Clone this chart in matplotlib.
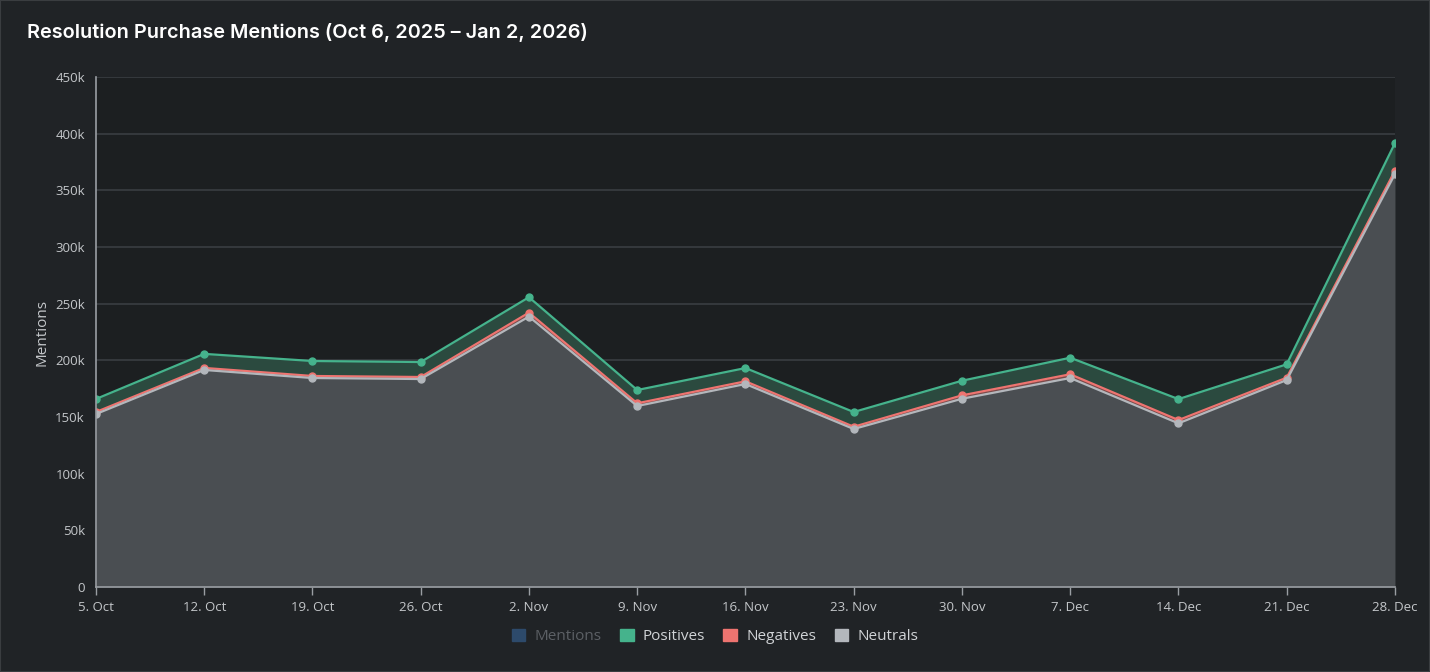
import matplotlib.pyplot as plt
import matplotlib.patches as mpatches
import numpy as np
from matplotlib.ticker import FuncFormatter

# weekly values, in thousands of mentions
weeks = ["5. Oct", "12. Oct", "19. Oct", "26. Oct", "2. Nov", "9. Nov", "16. Nov",
         "23. Nov", "30. Nov", "7. Dec", "14. Dec", "21. Dec", "28. Dec"]
neutrals = [152.6, 191.5, 184.4, 183.5, 238.6, 159.7, 179.1, 139.4, 166.1, 184.4, 144.4, 182.6, 364.4]
negatives = [1.8, 1.8, 1.8, 1.8, 3.5, 2.4, 2.4, 2.0, 3.0, 3.3, 2.9, 2.1, 2.9]
positives = [11.5, 12.4, 13.2, 13.2, 13.6, 11.7, 11.7, 13.0, 12.9, 14.6, 18.5, 11.8, 24.4]

BG = "#202326"
PLOT_BG = "#1c1f21"
GRID = "#3a3e42"
TXT = "#c4c7ca"
GREEN = "#45b38c"
RED = "#ee7470"
GREY = "#b3b7bc"

x = np.arange(len(weeks))
neu = np.array(neutrals) * 1000
neg_top = neu + np.array(negatives) * 1000
pos_top = neg_top + np.array(positives) * 1000

fig = plt.figure(figsize=(14.3, 6.72), dpi=100, facecolor=BG)
ax = fig.add_axes([0.0671, 0.1265, 0.9084, 0.7589], facecolor=PLOT_BG)

ax.fill_between(x, 0, neu, color="#4a4e52", lw=0, zorder=1)
ax.fill_between(x, neu, neg_top, color="#7a4a4a", lw=0, zorder=1)
ax.fill_between(x, neg_top, pos_top, color="#2b4a3f", lw=0, zorder=1)

# draw order: red under grey, green on top
ax.plot(x, neg_top, color=RED, lw=1.6, marker="o", ms=5, zorder=3)
ax.plot(x, neu, color=GREY, lw=1.6, marker="o", ms=5, zorder=4)
ax.plot(x, pos_top, color=GREEN, lw=1.6, marker="o", ms=5, zorder=5)

ax.set_xlim(0, len(weeks) - 1)
ax.set_ylim(0, 450000)
ax.set_yticks(np.arange(0, 450001, 50000))
ax.yaxis.set_major_formatter(FuncFormatter(lambda v, p: "0" if v == 0 else f"{int(v/1000)}k"))
ax.set_xticks(x)
ax.set_xticklabels(weeks)
ax.grid(axis="y", color=GRID, lw=1.2, zorder=0)
ax.set_axisbelow(True)

for s in ["top", "right"]:
    ax.spines[s].set_visible(False)
for s in ["left", "bottom"]:
    ax.spines[s].set_color("#9a9ea3")
    ax.spines[s].set_linewidth(1.2)
    ax.spines[s].set_zorder(6)

ax.tick_params(axis="y", length=0, colors=TXT, labelsize=9.5, pad=8)
ax.tick_params(axis="x", length=6, width=1, color="#9a9ea3", colors=TXT, labelsize=9.5, pad=4)
for lbl in ax.get_xticklabels() + ax.get_yticklabels():
    lbl.set_family("Open Sans")

ax.set_ylabel("Mentions", color=TXT, fontsize=11, family="Open Sans", labelpad=4)

fig.text(0.019, 0.952, "Resolution Purchase Mentions (Oct 6, 2025 \u2013 Jan 2, 2026)",
         color="white", fontsize=14.3, family="Inter", weight="semibold", va="center")

handles = [mpatches.Patch(color="#2d4a6b", label="Mentions"),
           mpatches.Patch(color=GREEN, label="Positives"),
           mpatches.Patch(color=RED, label="Negatives"),
           mpatches.Patch(color=GREY, label="Neutrals")]
leg = fig.legend(handles=handles, loc="center", bbox_to_anchor=(0.5, 0.053), ncol=4,
                 frameon=False, handlelength=0.9, handleheight=0.9, handletextpad=0.6,
                 columnspacing=1.2, prop={"family": "Open Sans", "size": 11})
for i, t in enumerate(leg.get_texts()):
    t.set_color("#5c6065" if i == 0 else "#d0d3d6")

fig.patches.append(mpatches.Rectangle((0, 0), 1, 1, transform=fig.transFigure,
                                      fill=False, ec="#3a3d40", lw=1.5))

fig.savefig("out.png", dpi=100, facecolor=BG)
